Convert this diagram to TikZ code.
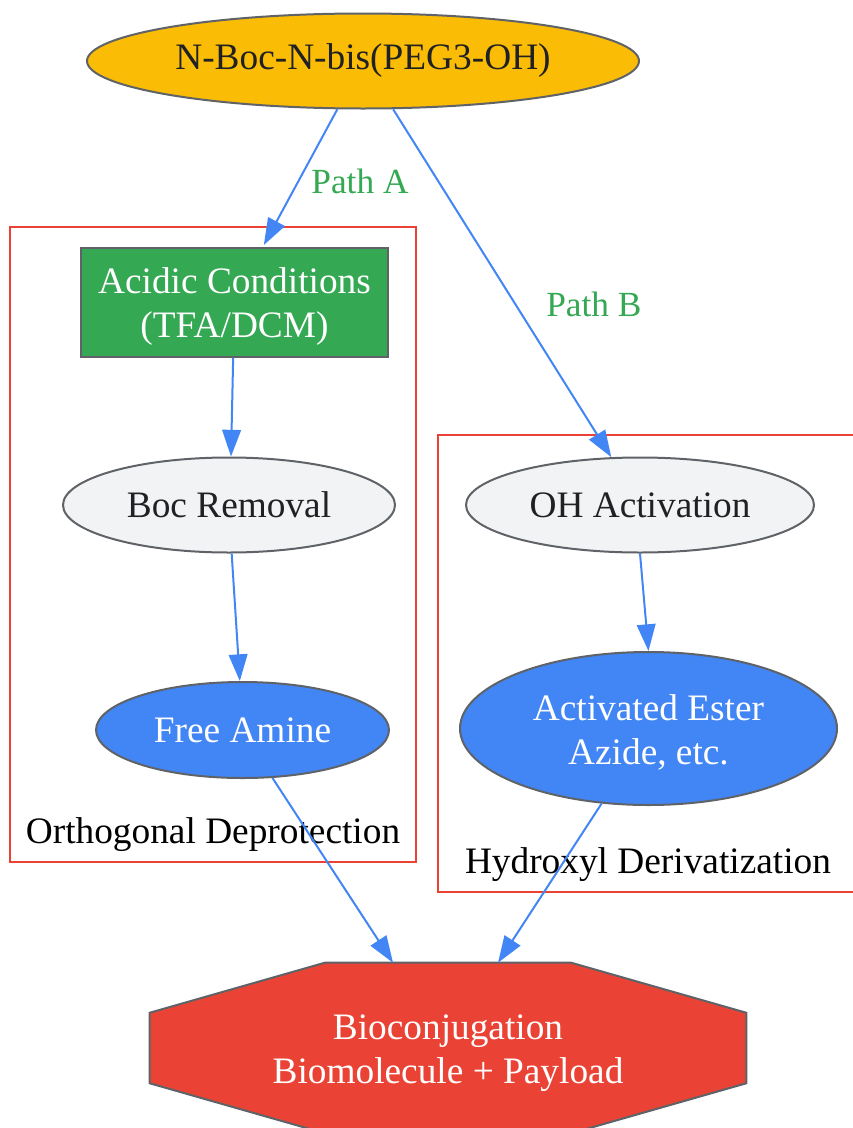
\documentclass[tikz,border=0pt]{standalone}
\usepackage{fontspec}
\setmainfont{Liberation Serif}
\usepackage{xcolor}
\usepackage{tikz}
\usetikzlibrary{shapes.geometric,arrows.meta}
\definecolor{C0}{HTML}{fbbc05}
\definecolor{C1}{HTML}{34a853}
\definecolor{C2}{HTML}{4285f4}
\definecolor{C3}{HTML}{ea4335}
\definecolor{C4}{HTML}{f1f3f4}
\definecolor{S0}{HTML}{5f6368}
\definecolor{T0}{HTML}{202124}

\begin{document}
\begin{tikzpicture}[x=0.75pt, y=-0.75pt,
  every node/.style={font=\fontsize{28}{33}\selectfont, text=T0, align=center, inner sep=0pt},
  shp/.style={draw=S0, line width=1.5pt},
  oval/.style={shp, ellipse},
  link/.style={draw=C2, line width=1.5pt, -{Triangle[length=20pt, width=14pt]}},
  lbl/.style={font=\fontsize{26.5}{30}\selectfont, text=C1, anchor=west},
  grp/.style={draw=C3, line width=1.6pt}]%
\useasboundingbox (0,0) rectangle (853,1128);%
\clip (0,0) rectangle (853,1128);%
% clusters
\draw[grp] (10,227) rectangle (416,862);%
\draw[grp] (438,435) rectangle (870,892);%
\node[text=black] (lblA) at (213,835) {Orthogonal Deprotection};%
\node[text=black] (lblB) at (648,865) {Hydroxyl Derivatization};%
% nodes
\node[oval, fill=C0, minimum width=414pt, minimum height=71.25pt] (start) at (363,61) {N-Boc-N-bis(PEG3-OH)};%
\node[shp, fill=C1, minimum width=230.25pt, minimum height=81.75pt] (acid) at (234.5,302.5) {};%
\node[text=white] (acidtxt) at (234.5,307) {Acidic Conditions\\(TFA/DCM)};%
\node[oval, fill=C4, minimum width=249pt, minimum height=71.25pt] (boc) at (229,505) {Boc Removal};%
\node[oval, fill=C2, text=white, minimum width=219.75pt, minimum height=72pt] (amine) at (242.5,730) {Free Amine};%
\node[oval, fill=C4, minimum width=261pt, minimum height=71.25pt] (ohact) at (640,505) {OH Activation};%
\node[oval, fill=C2, minimum width=282.75pt, minimum height=114.75pt] (ester) at (648.5,728.5) {};%
\node[text=white] (estertxt) at (648.5,732) {Activated Ester\\Azide, etc.};%
\node[minimum width=447pt, minimum height=127.5pt] (bio) at (448,1048) {};%
\draw[shp, fill=C3] ([xshift=131.25pt]bio.north west) -- ([xshift=-131.25pt]bio.north east) -- ([yshift=-37.5pt]bio.north east) -- ([yshift=37.5pt]bio.south east) -- ([xshift=-131.25pt]bio.south east) -- ([xshift=131.25pt]bio.south west) -- ([yshift=37.5pt]bio.south west) -- ([yshift=-37.5pt]bio.north west) -- cycle;%
\node[text=white] (biotxt) at (448,1053) {Bioconjugation\\Biomolecule + Payload};%
% connectors
\draw[link] (start.242) -- node[lbl, pos=0.53, xshift=9pt] {Path A} ([xshift=22pt, yshift=1.5pt]acid.north);%
\draw[link] (start.302) -- node[lbl, pos=0.56, xshift=22.5pt] {Path B} (ohact.121);%
\draw[link] ([xshift=-1pt]acid.south) -- ([xshift=1.5pt]boc.north);%
\draw[link] ([xshift=2pt]boc.south) -- ([xshift=-2pt]amine.north);%
\draw[link] (ohact.south) -- (ester.north);%
\draw[link] (amine.302) -- ([xshift=-41.25pt]bio.north);%
\draw[link] (ester.238) -- ([xshift=37.5pt]bio.north);%
\end{tikzpicture}
\end{document}
